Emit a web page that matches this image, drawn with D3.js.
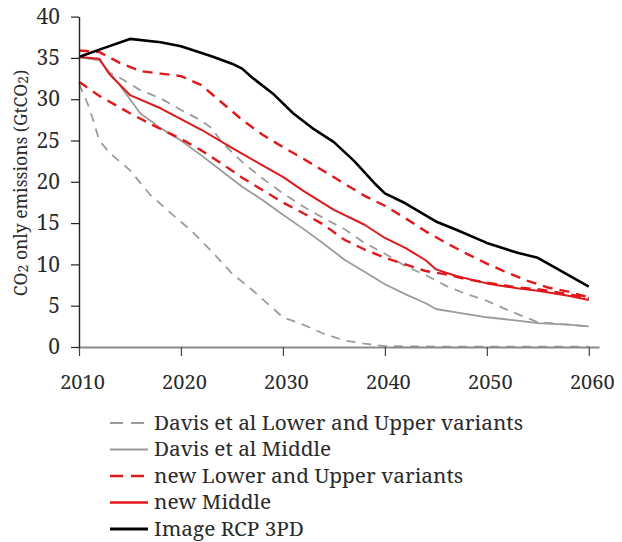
<!DOCTYPE html>
<html>
<head>
<meta charset="utf-8">
<script src="https://cdn.jsdelivr.net/npm/d3@7"></script>
<style>
  html, body { margin: 0; padding: 0; background: #fff; }
  svg { display: block; }
</style>
</head>
<body>
<svg id="chart" width="622" height="542"></svg>
<script>
// ---- Data ----
const xTicks = [2010, 2020, 2030, 2040, 2050, 2060];
const yTicks = [0, 5, 10, 15, 20, 25, 30, 35, 40];

const davisLowerYears  = [2010, 2011, 2012, 2013, 2015, 2017, 2019, 2021, 2023, 2025, 2027, 2029, 2030, 2032, 2034, 2036, 2038, 2040, 2045, 2050, 2055, 2060];
const davisLowerValues = [31.9, 29.0, 25.0, 23.5, 21.4, 18.4, 16.2, 14.1, 11.6, 8.9, 6.9, 4.7, 3.6, 2.7, 1.6, 0.8, 0.4, 0.1, 0.05, 0.05, 0.05, 0.05];

const davisUpperYears  = [2010, 2012, 2013, 2014, 2016, 2018, 2020, 2022, 2023, 2024, 2026, 2028, 2030, 2032, 2034, 2036, 2038, 2040, 2042, 2044, 2046, 2048, 2050, 2052, 2054, 2055, 2058, 2060];
const davisUpperValues = [35.1, 34.8, 33.2, 32.6, 31.1, 30.1, 28.7, 27.4, 26.5, 24.8, 22.4, 20.4, 18.6, 17.0, 15.6, 14.3, 12.6, 11.3, 9.8, 8.7, 7.4, 6.4, 5.6, 4.5, 3.5, 3.0, 2.7, 2.5];

const davisMiddleYears  = [2010, 2012, 2014, 2016, 2018, 2020, 2022, 2024, 2026, 2028, 2030, 2032, 2034, 2036, 2038, 2040, 2042, 2044, 2045, 2047, 2050, 2053, 2055, 2058, 2060];
const davisMiddleValues = [35.1, 34.7, 31.7, 28.3, 26.5, 25.0, 23.2, 21.3, 19.4, 17.8, 16.0, 14.3, 12.5, 10.6, 9.1, 7.6, 6.4, 5.3, 4.6, 4.2, 3.6, 3.2, 2.9, 2.7, 2.5];

const newLowerYears  = [2010, 2012, 2015, 2017, 2020, 2022, 2024, 2026, 2028, 2030, 2032, 2034, 2036, 2038, 2040, 2042, 2044, 2046, 2048, 2050, 2053, 2055, 2058, 2060];
const newLowerValues = [32.1, 30.4, 28.3, 27.0, 25.2, 23.8, 22.2, 20.5, 19.0, 17.5, 16.2, 14.8, 13.0, 11.8, 10.8, 10.0, 9.2, 8.8, 8.2, 7.8, 7.2, 7.0, 6.4, 5.9];

const newUpperYears  = [2010, 2012, 2014, 2016, 2018, 2020, 2022, 2024, 2026, 2028, 2030, 2032, 2034, 2036, 2038, 2040, 2042, 2044, 2046, 2048, 2050, 2052, 2054, 2056, 2058, 2060];
const newUpperValues = [35.9, 35.7, 34.4, 33.4, 33.1, 32.8, 31.7, 29.6, 27.5, 25.7, 24.2, 22.8, 21.3, 19.8, 18.3, 17.1, 15.6, 14.0, 12.6, 11.3, 10.1, 9.0, 8.0, 7.2, 6.7, 6.0];

const newMiddleYears  = [2010, 2012, 2013, 2015, 2018, 2020, 2022, 2025, 2028, 2030, 2032, 2035, 2038, 2040, 2042, 2044, 2045, 2047, 2050, 2053, 2055, 2058, 2060];
const newMiddleValues = [35.1, 34.9, 33.0, 30.5, 28.9, 27.6, 26.3, 24.1, 22.0, 20.6, 18.9, 16.6, 14.8, 13.2, 12.0, 10.5, 9.4, 8.6, 7.7, 7.1, 6.8, 6.2, 5.7];

const rcpYears  = [2010, 2012, 2015, 2018, 2020, 2023, 2025, 2026, 2027, 2029, 2031, 2033, 2035, 2037, 2039, 2040, 2042, 2045, 2047, 2050, 2053, 2055, 2057, 2060];
const rcpValues = [35.1, 36.0, 37.3, 36.9, 36.4, 35.2, 34.3, 33.7, 32.6, 30.7, 28.3, 26.4, 24.8, 22.5, 19.8, 18.6, 17.4, 15.2, 14.2, 12.6, 11.4, 10.8, 9.4, 7.3];

const legendLabels = [
  "Davis et al Lower and Upper variants",
  "Davis et al Middle",
  "new Lower and Upper variants",
  "new Middle",
  "Image RCP 3PD"
];

// ---- Styles ----
const FONT = '"Noto Serif", "Liberation Serif", serif';
const TEXT = "#2a2a2a";
const GRAY = "#9b9b9b", RED = "#e0181b", BLACK = "#000";
const styles = {
  grayDash: { stroke: GRAY, width: 1.8, dash: "9,7" },
  graySolid: { stroke: GRAY, width: 1.8, dash: null },
  redDash: { stroke: RED, width: 2.4, dash: "10,7" },
  redSolid: { stroke: RED, width: 2, dash: null },
  black: { stroke: BLACK, width: 2.6, dash: null }
};

const series = [
  { years: davisLowerYears, values: davisLowerValues, s: styles.grayDash },
  { years: davisUpperYears, values: davisUpperValues, s: styles.grayDash },
  { years: davisMiddleYears, values: davisMiddleValues, s: styles.graySolid },
  { years: newLowerYears, values: newLowerValues, s: styles.redDash },
  { years: newUpperYears, values: newUpperValues, s: styles.redDash },
  { years: newMiddleYears, values: newMiddleValues, s: styles.redSolid },
  { years: rcpYears, values: rcpValues, s: styles.black }
];
const legendStyles = [styles.grayDash, styles.graySolid, styles.redDash, styles.redSolid, styles.black];

// ---- Chart ----
const svg = d3.select("#chart");
const x = d3.scaleLinear().domain([2010, 2061]).range([79, 599]);
const y = d3.scaleLinear().domain([0, 40]).range([347, 16.6]);

// lines
const line = d3.line().x(d => x(d[0])).y(d => y(d[1]));
series.forEach(sr => {
  const pts = sr.years.map((yr, i) => [yr, sr.values[i]]);
  svg.append("path")
    .datum(pts)
    .attr("d", line)
    .attr("fill", "none")
    .attr("stroke", sr.s.stroke)
    .attr("stroke-width", sr.s.width)
    .attr("stroke-dasharray", sr.s.dash)
    .attr("stroke-linejoin", "round");
});

// x axis
const xAxis = d3.axisBottom(x).tickValues(xTicks).tickFormat(d3.format("d")).tickSize(9).tickSizeOuter(0).tickPadding(19);
const gx = svg.append("g").attr("transform", `translate(0,${y(0)})`).call(xAxis);
gx.select(".domain").attr("stroke", "#8a8a8a").attr("stroke-width", 2);
gx.selectAll(".tick line").attr("stroke", "#444").attr("stroke-width", 1.2);
gx.selectAll(".tick text").style("font-family", FONT).attr("font-size", 20).attr("fill", TEXT).attr("dx", 3);

// y axis
const yAxis = d3.axisLeft(y).tickValues(yTicks).tickSize(8).tickSizeOuter(0).tickPadding(11);
const gy = svg.append("g").attr("transform", `translate(${x(2010)},0)`).call(yAxis);
gy.select(".domain").attr("stroke", "#222").attr("stroke-width", 1.4);
gy.selectAll(".tick line").attr("stroke", "#222").attr("stroke-width", 1.2);
gy.selectAll(".tick text").style("font-family", FONT).attr("font-size", 21).attr("fill", TEXT);

// y axis title
const yt = svg.append("text")
  .attr("transform", "translate(27,183) rotate(-90)")
  .attr("text-anchor", "middle")
  .style("font-family", FONT)
  .attr("fill", TEXT)
  .attr("font-size", 17.5);
yt.append("tspan").text("CO");
yt.append("tspan").attr("font-size", 14).attr("dy", 1).text("2");
yt.append("tspan").attr("dy", -1).text(" only emissions (GtCO");
yt.append("tspan").attr("font-size", 14).attr("dy", 1).text("2");
yt.append("tspan").attr("dy", -1).text(")");

// legend
const legend = svg.append("g");
legendLabels.forEach((lab, i) => {
  const cy = 423 + i * 26.5;
  const st = legendStyles[i];
  legend.append("line")
    .attr("x1", 110).attr("x2", 148).attr("y1", cy).attr("y2", cy)
    .attr("stroke", st.stroke).attr("stroke-width", st.width + 0.3)
    .attr("stroke-dasharray", st.dash ? "13,8" : null);
  legend.append("text")
    .attr("x", 154).attr("y", cy).attr("dy", "0.33em")
    .style("font-family", FONT)
    .attr("fill", TEXT)
    .attr("font-size", 20.8)
    .text(lab);
});
</script>
</body>
</html>
